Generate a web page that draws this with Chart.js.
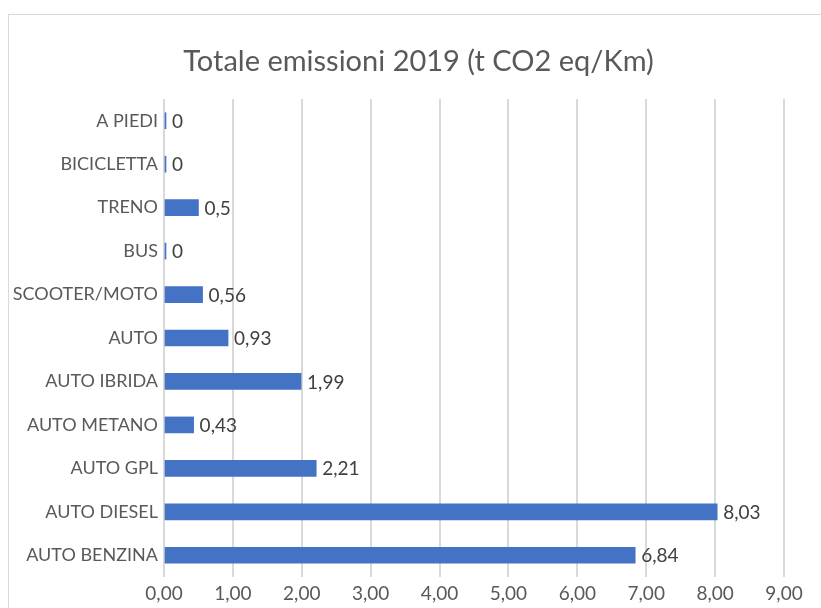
<!DOCTYPE html>
<html>
<head>
<meta charset="utf-8">
<script src="https://cdn.jsdelivr.net/npm/chart.js@4"></script>
<style>
  html, body { margin: 0; padding: 0; background: #fff; overflow: hidden; }
  #frame { position: absolute; left: 8px; top: 14px; width: 900px; height: 700px; border: 1px solid #d9d9d9; }
  #box { position: absolute; left: 0; top: 0; width: 825px; height: 608px; }
</style>
</head>
<body>
<div id="frame"></div>
<div id="box"><canvas id="emissionsChart"></canvas></div>
<script>
// Categorie (dall'alto verso il basso)
const mezzi = ['A PIEDI', 'BICICLETTA', 'TRENO', 'BUS', 'SCOOTER/MOTO', 'AUTO', 'AUTO IBRIDA', 'AUTO METANO', 'AUTO GPL', 'AUTO DIESEL', 'AUTO BENZINA'];
// t CO2 eq/Km
const emissioni = [0, 0, 0.5, 0, 0.56, 0.93, 1.99, 0.43, 2.21, 8.03, 6.84];
// etichette dei valori come nel foglio
const etichette = ['0', '0', '0,5', '0', '0,56', '0,93', '1,99', '0,43', '2,21', '8,03', '6,84'];
const titolo = 'Totale emissioni 2019 (t CO2 eq/Km)';

const FONT = 'Lato, "Liberation Sans", sans-serif';

// Plugin per scrivere il valore a destra della barra
const valueLabels = {
    id: 'valueLabels',
    afterDatasetsDraw(chart) {
        const ctx = chart.ctx;
        const meta = chart.getDatasetMeta(0);
        ctx.save();
        ctx.font = '19px ' + FONT;
        ctx.fillStyle = '#404040';
        ctx.textAlign = 'left';
        ctx.textBaseline = 'middle';
        meta.data.forEach((bar, i) => {
            ctx.fillText(etichette[i], bar.x + 6, bar.y + 1);
        });
        ctx.restore();
    }
};

const ctx = document.getElementById('emissionsChart').getContext('2d');
new Chart(ctx, {
    type: 'bar',
    data: {
        labels: mezzi,
        datasets: [{
            label: titolo,
            data: emissioni,
            backgroundColor: '#4472c4',
            borderWidth: 0,
            barThickness: 16,
            minBarLength: 2
        }]
    },
    options: {
        indexAxis: 'y',
        responsive: true,
        maintainAspectRatio: false,
        animation: false,
        layout: { padding: { left: 12, right: 0, top: 0, bottom: 0 } },
        scales: {
            x: {
                min: 0,
                max: 9,
                ticks: {
                    stepSize: 1,
                    color: '#595959',
                    font: { family: FONT, size: 19 },
                    padding: 5,
                    callback: v => v.toFixed(2).replace('.', ',')
                },
                grid: { color: '#d9d9d9', lineWidth: 2, drawTicks: false },
                border: { display: false },
                afterFit: scale => { scale.height = 31; }
            },
            y: {
                ticks: {
                    color: '#595959',
                    font: { family: FONT, size: 18 },
                    padding: 6
                },
                grid: { display: false, drawTicks: false },
                border: { display: false },
                afterFit: scale => { scale.width = 152; }
            },
            // asse vuoto a destra, solo per lo spazio
            yDestra: {
                type: 'category',
                position: 'right',
                ticks: { display: false },
                grid: { display: false, drawTicks: false },
                border: { display: false },
                afterFit: scale => { scale.width = 41; }
            }
        },
        plugins: {
            legend: { display: false },
            tooltip: { enabled: false },
            title: {
                display: true,
                text: titolo,
                color: '#595959',
                font: { family: FONT, size: 29, weight: 'normal', lineHeight: 1.2 },
                padding: { top: 44, bottom: 20.2 }
            }
        }
    },
    plugins: [valueLabels]
});
</script>
</body>
</html>
